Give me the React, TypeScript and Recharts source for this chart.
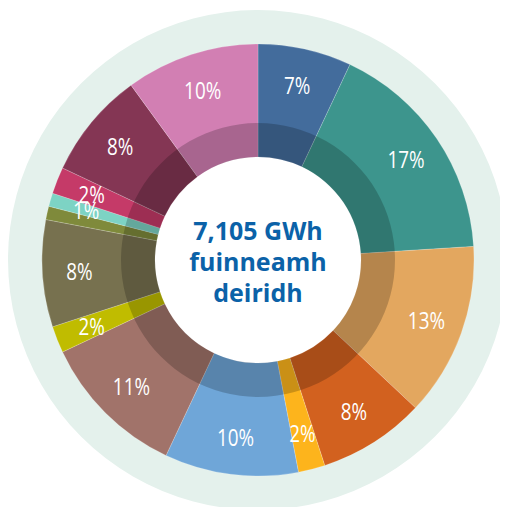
import { PieChart, Pie, Cell } from 'recharts';

// Share of final energy use, clockwise from 12 o'clock
const categories = [
  'seg1', 'seg2', 'seg3', 'seg4', 'seg5', 'seg6', 'seg7',
  'seg8', 'seg9', 'seg10', 'seg11', 'seg12', 'seg13', 'seg14',
];
const shares = [7, 17, 13, 8, 2, 10, 11, 2, 8, 1, 1, 2, 8, 10];
// printed labels (one sliver carries no label)
const shareLabels = [
  '7%', '17%', '13%', '8%', '2%', '10%', '11%',
  '2%', '8%', '', '1%', '2%', '8%', '10%',
];
const centreLines = ['7,105 GWh', 'fuinneamh', 'deiridh'];

const COLORS = [
  '#436c9c', '#3d958d', '#e3a75f', '#d2611f', '#fdb41c', '#6fa6d8', '#a1736a',
  '#c0bc00', '#77714f', '#7f8a3b', '#7dd3c4', '#c53a68', '#843654', '#d27fb3',
];

const data = categories.map((name, i) => ({
  name,
  value: shares[i],
  label: shareLabels[i],
}));

const RADIAN = Math.PI / 180;
const CX = 250;
const CY = 252;

/**
 * White percentage label in the middle of the outer band
 */
function renderLabel(props: any) {
  const { cx, cy, midAngle, index } = props;
  const text = shareLabels[index];
  if (!text) return null;
  const r = 179;
  const x = cx + r * Math.cos(-midAngle * RADIAN);
  const y = cy + r * Math.sin(-midAngle * RADIAN);
  return (
    <g transform={`translate(${x},${y}) scale(0.82,1)`}>
      <text
        x={0}
        y={0}
        fill="#ffffff"
        textAnchor="middle"
        dominantBaseline="central"
        fontFamily="'Open Sans', sans-serif"
        fontWeight={500}
        fontSize={23}
      >
        {text}
      </text>
    </g>
  );
}

export default function App() {
  return (
    <div style={{ width: 500, height: 499, position: 'relative' }}>
      <PieChart
        width={500}
        height={499}
        margin={{ top: 0, right: 0, bottom: 0, left: 0 }}
      >
        <Pie
          data={[{ name: 'ring', value: 1 }]}
          dataKey="value"
          cx={CX}
          cy={CY}
          innerRadius={214}
          outerRadius={250}
          fill="#e4f1ec"
          stroke="none"
          isAnimationActive={false}
        />
        <Pie
          data={data}
          dataKey="value"
          nameKey="name"
          cx={CX}
          cy={CY}
          startAngle={90}
          endAngle={-270}
          innerRadius={103}
          outerRadius={216}
          stroke="#ffffff"
          strokeOpacity={0.3}
          strokeWidth={0.6}
          label={renderLabel}
          labelLine={false}
          isAnimationActive={false}
        >
          {data.map((d, i) => (
            <Cell key={d.name} fill={COLORS[i]} />
          ))}
        </Pie>
        <Pie
          data={[{ name: 'shade', value: 1 }]}
          dataKey="value"
          cx={CX}
          cy={CY}
          innerRadius={103}
          outerRadius={137}
          fill="#000000"
          fillOpacity={0.2}
          stroke="none"
          isAnimationActive={false}
        />
      </PieChart>
      <div
        style={{
          position: 'absolute',
          left: CX - 100,
          top: CY - 45,
          width: 200,
          textAlign: 'center',
          color: '#0b62a8',
          fontFamily: "'Open Sans', sans-serif",
          fontWeight: 700,
          fontSize: 25,
          lineHeight: '31px',
        }}
      >
        {centreLines.map((line) => (
          <div key={line}>{line}</div>
        ))}
      </div>
    </div>
  );
}
